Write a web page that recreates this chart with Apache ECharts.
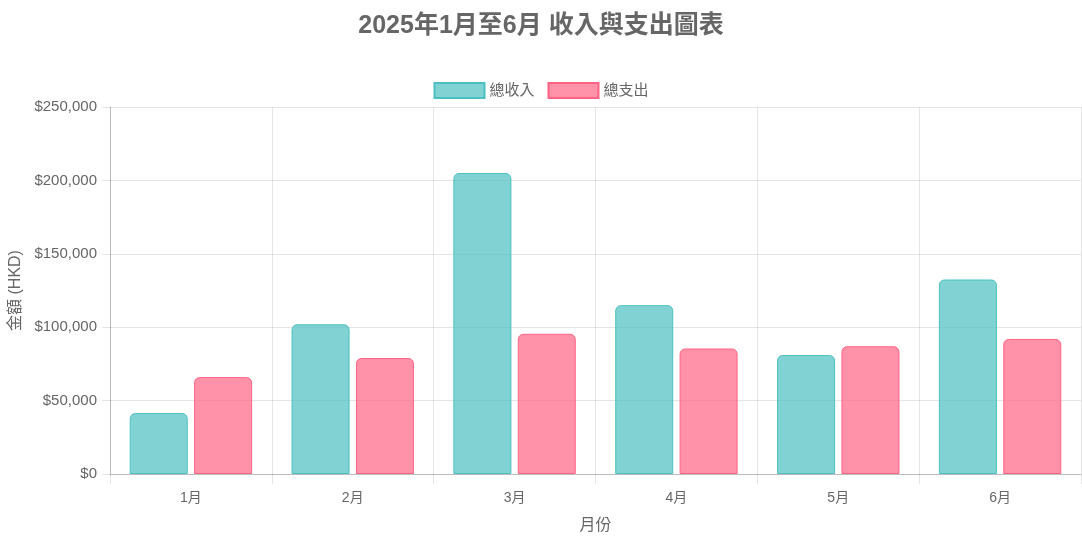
<!DOCTYPE html>
<html>
<head>
<meta charset="utf-8">
<script src="https://cdn.jsdelivr.net/npm/echarts@6/dist/echarts.min.js"></script>
<style>
html,body{margin:0;padding:0;background:#fff;}
#c{width:1082px;height:541px;}
</style>
</head>
<body>
<div id="c"></div>
<script>
var categories = ['1月','2月','3月','4月','5月','6月'];
var incomeValues = [41500, 102000, 205000, 115000, 81000, 132500];
var expenseValues = [66000, 79000, 95500, 85500, 87000, 92000];
var yTicks = { min: 0, max: 250000, interval: 50000 };

var FONT = '"Liberation Sans", Arial, "Noto Sans CJK TC", sans-serif';
var chart = echarts.init(document.getElementById('c'), null, {renderer:'canvas'});
chart.setOption({
  animation: false,
  textStyle: { fontFamily: FONT },
  title: {
    text: '2025年1月至6月 收入與支出圖表',
    left: 'center', top: 9,
    textStyle: { fontFamily: FONT, fontSize: 25, fontWeight: 'bold', color: '#666' }
  },
  legend: {
    top: 77, left: 'center',
    itemWidth: 50, itemHeight: 15, itemGap: 13,
    icon: 'rect',
    textStyle: { fontFamily: FONT, fontSize: 15, color: '#666' },
    data: ['總收入','總支出']
  },
  grid: { left: 110, right: 1, top: 107, bottom: 67, containLabel: false, outerBoundsMode: 'none' },
  xAxis: {
    type: 'category',
    data: categories,
    name: '月份', nameLocation: 'middle', nameGap: 44,
    nameTextStyle: { fontFamily: FONT, fontSize: 16, color: '#666' },
    axisLine: { show: true, lineStyle: { color: 'rgba(0,0,0,0.18)' } },
    axisTick: { show: true, length: 10, lineStyle: { color: 'rgba(0,0,0,0.1)' } },
    splitLine: { show: true, lineStyle: { color: 'rgba(0,0,0,0.1)' } },
    axisLabel: { fontFamily: FONT, fontSize: 14, color: '#666', margin: 17 }
  },
  yAxis: {
    type: 'value',
    min: yTicks.min, max: yTicks.max, interval: yTicks.interval,
    name: '金額 (HKD)', nameLocation: 'middle', nameGap: 86, nameRotate: 90,
    nameTextStyle: { fontFamily: FONT, fontSize: 16, color: '#666' },
    axisLine: { show: true, lineStyle: { color: 'rgba(0,0,0,0.18)' } },
    axisTick: { show: true, length: 8, lineStyle: { color: 'rgba(0,0,0,0.1)' } },
    splitLine: { show: true, lineStyle: { color: 'rgba(0,0,0,0.1)' } },
    axisLabel: {
      fontFamily: FONT, fontSize: 15, color: '#666', margin: 13,
      formatter: function(v){ return '$' + v.toLocaleString('en-US'); }
    }
  },
  series: [
    {
      name: '總收入', type: 'bar', data: incomeValues,
      barWidth: 58, barGap: '11%',
      itemStyle: { color: 'rgba(75,192,192,0.7)', borderColor: 'rgb(75,192,192)', borderWidth: 1, borderRadius: [5,5,0,0] }
    },
    {
      name: '總支出', type: 'bar', data: expenseValues,
      barWidth: 58, barGap: '11%',
      itemStyle: { color: 'rgba(255,99,132,0.7)', borderColor: 'rgb(255,99,132)', borderWidth: 1, borderRadius: [5,5,0,0] }
    }
  ]
});
</script>
</body>
</html>
